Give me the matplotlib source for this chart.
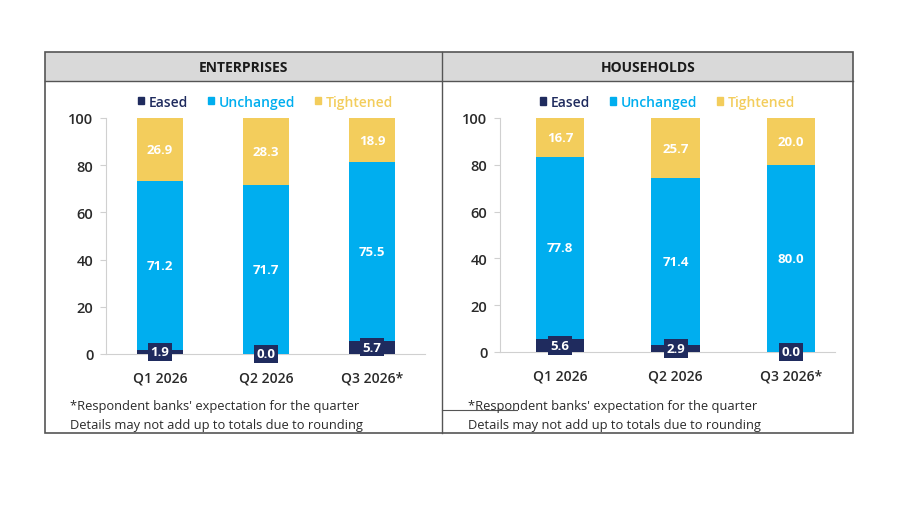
import matplotlib.pyplot as plt
from matplotlib.patches import Rectangle, Patch
from matplotlib.lines import Line2D

# dados
quarters = ['Q1 2026', 'Q2 2026', 'Q3 2026*']
ent_eased = [1.9, 0.0, 5.7]
ent_unchanged = [71.2, 71.7, 75.5]
ent_tightened = [26.9, 28.3, 18.9]
hh_eased = [5.6, 2.9, 0.0]
hh_unchanged = [77.8, 71.4, 80.0]
hh_tightened = [16.7, 25.7, 20.0]

NAVY = '#1f2b5e'
BLUE = '#00aeef'
YELLOW = '#f3cd5c'
TXT = '#2a2a2a'

plt.rcParams['font.family'] = ['Open Sans', 'DejaVu Sans']

fig = plt.figure(figsize=(9, 5.06), dpi=100)
W, H = 900, 506


def fx(px):
    return px / W


def fy(py):
    return 1 - py / H


# moldura e cabeçalho
fig.patches.append(Rectangle((fx(45), fy(82)), fx(853) - fx(45), fy(53) - fy(82),
                             transform=fig.transFigure, facecolor='#d9d9d9', edgecolor='none', zorder=0))
fig.patches.append(Rectangle((fx(45), fy(434)), fx(853) - fx(45), fy(53) - fy(434),
                             transform=fig.transFigure, facecolor='none', edgecolor='#555555', lw=1.2, zorder=5))
fig.lines.append(Line2D([fx(45), fx(853)], [fy(82), fy(82)], transform=fig.transFigure, color='#555555', lw=1))
fig.lines.append(Line2D([fx(442), fx(442)], [fy(53), fy(434)], transform=fig.transFigure, color='#555555', lw=1))
fig.lines.append(Line2D([fx(442), fx(517)], [fy(411), fy(411)], transform=fig.transFigure, color='#555555', lw=0.8))

fig.text(fx(243), fy(68), 'ENTERPRISES', ha='center', va='center', fontsize=10, fontweight='bold', color='#1a1a1a')
fig.text(fx(648), fy(68), 'HOUSEHOLDS', ha='center', va='center', fontsize=10, fontweight='bold', color='#1a1a1a')


def painel(rect, xlim, width, eased, unchanged, tightened, foot_x):
    ax = fig.add_axes(rect)
    x = range(len(quarters))
    ax.bar(x, eased, width, color=NAVY, zorder=3)
    ax.bar(x, unchanged, width, bottom=eased, color=BLUE, zorder=3)
    base = [e + u for e, u in zip(eased, unchanged)]
    ax.bar(x, tightened, width, bottom=base, color=YELLOW, zorder=3)

    for i in x:
        ax.text(i, base[i] + tightened[i] / 2, f'{tightened[i]:.1f}', ha='center', va='center',
                color='white', fontsize=9.5, fontweight='bold', zorder=4)
        ax.text(i, eased[i] + unchanged[i] / 2, f'{unchanged[i]:.1f}', ha='center', va='center',
                color='white', fontsize=9.5, fontweight='bold', zorder=4)
        ax.text(i, eased[i] / 2, f'{eased[i]:.1f}', ha='center', va='center',
                color='white', fontsize=9.5, fontweight='bold', zorder=5,
                bbox=dict(boxstyle='square,pad=0.2', facecolor=NAVY, edgecolor='none'))

    ax.set_xlim(*xlim)
    ax.set_ylim(0, 100)
    ax.set_yticks([0, 20, 40, 60, 80, 100])
    ax.set_xticks(list(x))
    ax.set_xticklabels(quarters, fontweight='semibold')
    for lab in ax.get_yticklabels():
        lab.set_fontweight('semibold')
    for s in ['top', 'right']:
        ax.spines[s].set_visible(False)
    ax.spines['left'].set_color('#d0d0d0')
    ax.spines['bottom'].set_color('#d0d0d0')
    ax.tick_params(axis='y', colors='#d0d0d0', labelcolor=TXT, labelsize=10.5, length=4, pad=5)
    ax.tick_params(axis='x', length=0, labelcolor=TXT, labelsize=10, pad=12)

    handles = [Patch(color=NAVY), Patch(color=BLUE), Patch(color=YELLOW)]
    leg = ax.legend(handles, ['Eased', 'Unchanged', 'Tightened'], ncol=3, frameon=False,
                    loc='lower center', bbox_to_anchor=(0.5, 1.01), handlelength=0.45, handleheight=0.45,
                    handletextpad=0.35, columnspacing=1.4, fontsize=10,
                    labelcolor=[NAVY, BLUE, YELLOW], borderpad=0)
    for t in leg.get_texts():
        t.set_fontweight('semibold')

    fig.text(fx(foot_x), fy(407), "*Respondent banks' expectation for the quarter",
             ha='left', va='center', fontsize=9.3, color=TXT)
    fig.text(fx(foot_x), fy(425), 'Details may not add up to totals due to rounding',
             ha='left', va='center', fontsize=9.3, color=TXT)
    return ax


painel([fx(106), fy(355), fx(425) - fx(106), fy(119) - fy(355)], (-0.51, 2.5), 0.43,
       ent_eased, ent_unchanged, ent_tightened, 70)
painel([fx(500), fy(353), fx(835) - fx(500), fy(119) - fy(353)], (-0.52, 2.38), 0.42,
       hh_eased, hh_unchanged, hh_tightened, 468)

fig.savefig('out.png', dpi=100)
